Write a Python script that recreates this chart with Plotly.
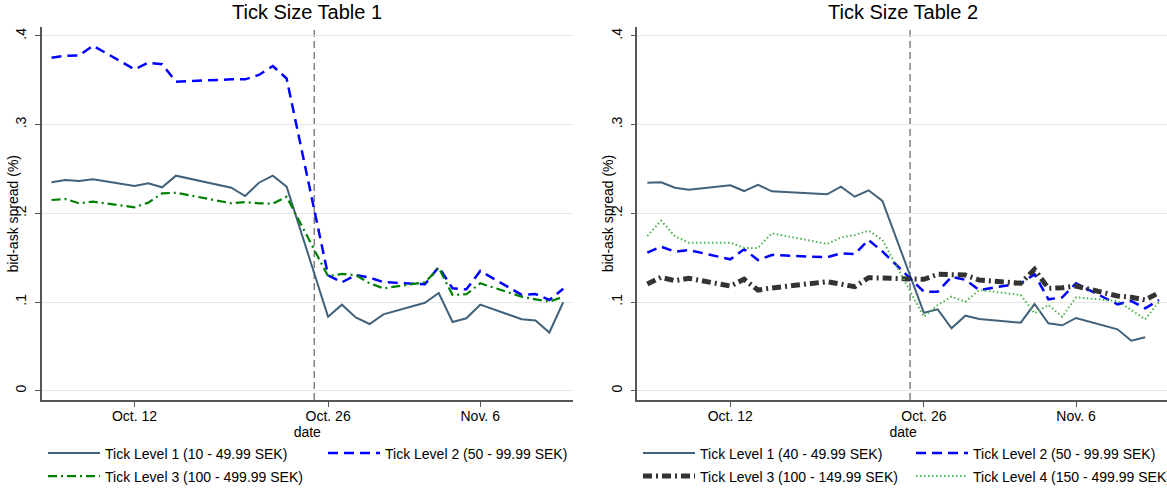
import plotly.graph_objects as go

# ---------------- data ----------------
dates = ["2009-10-06", "2009-10-07", "2009-10-08", "2009-10-09",
         "2009-10-12", "2009-10-13", "2009-10-14", "2009-10-15",
         "2009-10-19", "2009-10-20", "2009-10-21", "2009-10-22", "2009-10-23",
         "2009-10-26", "2009-10-27", "2009-10-28", "2009-10-29", "2009-10-30",
         "2009-11-02", "2009-11-03", "2009-11-04", "2009-11-05", "2009-11-06",
         "2009-11-09", "2009-11-10", "2009-11-11", "2009-11-12"]

t1_level1 = [0.2350, 0.2375, 0.2364, 0.2383, 0.2308, 0.2338, 0.2293, 0.2424,
             0.2289, 0.2195, 0.2345, 0.2424, 0.2300,
             0.0834, 0.0970, 0.0825, 0.0752, 0.0861,
             0.0992, 0.1102, 0.0775, 0.0816, 0.0970,
             0.0806, 0.0792, 0.0656, 0.0997]
t1_level2 = [0.3754, 0.3777, 0.3781, 0.3890, 0.3623, 0.3698, 0.3680, 0.3484,
             0.3510, 0.3510, 0.3560, 0.3660, 0.3520,
             0.1300, 0.1222, 0.1304, 0.1275, 0.1224,
             0.1200, 0.1395, 0.1154, 0.1143, 0.1350,
             0.1080, 0.1090, 0.1023, 0.1150]
t1_level3 = [0.2150, 0.2161, 0.2113, 0.2131, 0.2068, 0.2120, 0.2225, 0.2232,
             0.2113, 0.2127, 0.2113, 0.2109, 0.2187,
             0.1290, 0.1316, 0.1304, 0.1211, 0.1154,
             0.1222, 0.1385, 0.1079, 0.1087, 0.1211,
             0.1060, 0.1030, 0.1003, 0.1060]

t2_level1 = [0.2345, 0.2349, 0.2289, 0.2266, 0.2315, 0.2251, 0.2322, 0.2248,
             0.2214, 0.2300, 0.2187, 0.2259, 0.2139,
             0.0879, 0.0917, 0.0703, 0.0846, 0.0808,
             0.0767, 0.0977, 0.0760, 0.0737, 0.0820,
             0.0692, 0.0564, 0.0602, None]
t2_level2 = [0.1556, 0.1624, 0.1567, 0.1586, 0.1481, 0.1594, 0.1473, 0.1530,
             0.1504, 0.1549, 0.1541, 0.1699, 0.1570,
             0.1116, 0.1116, 0.1285, 0.1250, 0.1135,
             0.1211, 0.1312, 0.1030, 0.1053, 0.1211,
             0.0974, 0.1011, 0.0929, 0.1023]
t2_level3 = [0.1203, 0.1278, 0.1240, 0.1267, 0.1180, 0.1256, 0.1135, 0.1158,
             0.1229, 0.1203, 0.1173, 0.1274, 0.1270,
             0.1256, 0.1312, 0.1312, 0.1304, 0.1248,
             0.1211, 0.1368, 0.1154, 0.1161, 0.1180,
             0.1068, 0.1053, 0.1023, 0.1105]
t2_level4 = [0.1744, 0.1917, 0.1740, 0.1669, 0.1669, 0.1610, 0.1610, 0.1775,
             0.1654, 0.1729, 0.1755, 0.1804, 0.1700,
             0.0834, 0.0966, 0.1060, 0.1003, 0.1135,
             0.1079, 0.0872, 0.0966, 0.0834, 0.1053,
             0.1011, 0.0910, 0.0805, 0.1003]

event_date = "2009-10-25"
x_ticks = ["2009-10-12", "2009-10-26", "2009-11-06"]
x_ticktext = ["Oct. 12", "Oct. 26", "Nov. 6"]
y_ticks = [0, 0.1, 0.2, 0.3, 0.4]
y_ticktext = ["0", ".1", ".2", ".3", ".4"]

names_t1 = ["Tick Level 1 (10 - 49.99 SEK)", "Tick Level 2 (50 - 99.99 SEK)",
            "Tick Level 3 (100 - 499.99 SEK)"]
names_t2 = ["Tick Level 1 (40 - 49.99 SEK)", "Tick Level 2 (50 - 99.99 SEK)",
            "Tick Level 3 (100 - 149.99 SEK)", "Tick Level 4 (150 - 499.99 SEK)"]
titles = ["Tick Size Table 1", "Tick Size Table 2"]
y_title = "bid-ask spread (%)"

# ---------------- styles ----------------
FONT = "Liberation Sans, Arial, sans-serif"
C_SOLID = "#41627a"
C_BLUE = "#0000ff"
C_GREEN = "#008000"
C_BLACK = "#333333"
C_LGREEN = "#4db34d"
AXIS_C = "#555555"
GRID_C = "#e6e6e6"

# The original combined graph is wider than the visible 1167x488 window and is
# cropped on the right, so the figure canvas is a little larger than the window.
W, H = 1200, 510


def fx(px):
    return px / W


def fy(py):
    return (H - py) / H


y_dom = [fy(400), fy(27.3)]
xl_dom = [fx(41.5), fx(573)]
xr_dom = [fx(637.3), fx(1168.8)]

fig = go.Figure()

# left panel
fig.add_trace(go.Scatter(x=dates, y=t1_level1, mode="lines", name=names_t1[0],
                         line=dict(color=C_SOLID, width=2), legend="legend",
                         legendwidth=213, xaxis="x", yaxis="y"))
fig.add_trace(go.Scatter(x=dates, y=t1_level2, mode="lines", name=names_t1[1],
                         line=dict(color=C_BLUE, width=2.5, dash="10px,6px"),
                         legend="legend", legendwidth=205, xaxis="x", yaxis="y"))
fig.add_trace(go.Scatter(x=dates, y=t1_level3, mode="lines", name=names_t1[2],
                         line=dict(color=C_GREEN, width=2.2, dash="9px,4px,2px,4px"),
                         legend="legend2", legendwidth=220, xaxis="x", yaxis="y"))

# right panel
fig.add_trace(go.Scatter(x=dates, y=t2_level1, mode="lines", name=names_t2[0],
                         line=dict(color=C_SOLID, width=2), legend="legend3",
                         legendwidth=206, xaxis="x2", yaxis="y2"))
fig.add_trace(go.Scatter(x=dates, y=t2_level2, mode="lines", name=names_t2[1],
                         line=dict(color=C_BLUE, width=2.5, dash="10px,6px"),
                         legend="legend3", legendwidth=210, xaxis="x2", yaxis="y2"))
fig.add_trace(go.Scatter(x=dates, y=t2_level3, mode="lines", name=names_t2[2],
                         line=dict(color=C_BLACK, width=5, dash="9px,4px,2px,4px"),
                         legend="legend4", legendwidth=206, xaxis="x2", yaxis="y2"))
fig.add_trace(go.Scatter(x=dates, y=t2_level4, mode="lines", name=names_t2[3],
                         line=dict(color=C_LGREEN, width=2, dash="1.5px,2.5px"),
                         legend="legend4", legendwidth=210, xaxis="x2", yaxis="y2"))

xaxis_common = dict(
    type="date", tickmode="array", tickvals=x_ticks, ticktext=x_ticktext,
    showgrid=False, zeroline=False, showline=True, linecolor=AXIS_C, linewidth=1.5,
    ticks="outside", ticklen=5, tickwidth=1.2, tickcolor=AXIS_C, ticklabelstandoff=-3,
    tickfont=dict(family=FONT, size=14, color="black"),
    title=dict(text="date", font=dict(family=FONT, size=14, color="black"), standoff=1),
    automargin=False, fixedrange=True,
)
yaxis_common = dict(
    range=[-0.01048, 0.4097], domain=y_dom, tickmode="array", tickvals=y_ticks,
    ticktext=y_ticktext, tickangle=-90, showgrid=True, gridcolor=GRID_C, gridwidth=1.2,
    zeroline=False, showline=True, linecolor=AXIS_C, linewidth=1.5,
    ticks="outside", ticklen=5, tickwidth=1.2, tickcolor=AXIS_C, ticklabelstandoff=3,
    tickfont=dict(family=FONT, size=14, color="black"),
    automargin=False, fixedrange=True,
)

legend_common = dict(orientation="h", font=dict(family=FONT, size=14, color="black"),
                     itemwidth=52, bgcolor="rgba(0,0,0,0)", borderwidth=0,
                     xanchor="left", yanchor="middle", tracegroupgap=0,
                     itemclick=False, itemdoubleclick=False)

fig.update_layout(
    width=W, height=H,
    margin=dict(l=0, r=0, t=0, b=0),
    paper_bgcolor="white", plot_bgcolor="white",
    font=dict(family=FONT, size=14, color="black"),
    xaxis=dict(domain=xl_dom, range=["2009-10-05 06:38", "2009-11-12 17:00"],
               anchor="y", **xaxis_common),
    yaxis=dict(anchor="x", **yaxis_common),
    xaxis2=dict(domain=xr_dom, range=["2009-10-05 06:38", "2009-11-12 17:00"],
                anchor="y2", **xaxis_common),
    yaxis2=dict(anchor="x2", **yaxis_common),
    legend=dict(x=fx(43), y=fy(453.5), **legend_common),
    legend2=dict(x=fx(43), y=fy(476.5), **legend_common),
    legend3=dict(x=fx(638), y=fy(453.5), **legend_common),
    legend4=dict(x=fx(638), y=fy(476.5), **legend_common),
    showlegend=True,
)

# panel titles and y-axis titles
for dom, txt in zip([xl_dom, xr_dom], titles):
    fig.add_annotation(text=txt, xref="paper", yref="paper",
                       x=(dom[0] + dom[1]) / 2, y=fy(12),
                       xanchor="center", yanchor="middle", showarrow=False,
                       font=dict(family=FONT, size=20, color="black"))
    fig.add_annotation(text=y_title, xref="paper", yref="paper",
                       x=fx(dom[0] * W - 28.5), y=fy(213.5), textangle=-90,
                       xanchor="center", yanchor="middle", showarrow=False,
                       font=dict(family=FONT, size=14, color="black"))

# event line
for xr in ["x", "x2"]:
    fig.add_shape(type="line", xref=xr, yref=("y domain" if xr == "x" else "y2 domain"),
                  x0=event_date, x1=event_date, y0=0, y1=1, layer="below",
                  line=dict(color="#808080", width=1.5, dash="7px,4px"))

fig.write_html("out.html", config={"displayModeBar": False},
               post_script="document.body.style.margin='0px';")
